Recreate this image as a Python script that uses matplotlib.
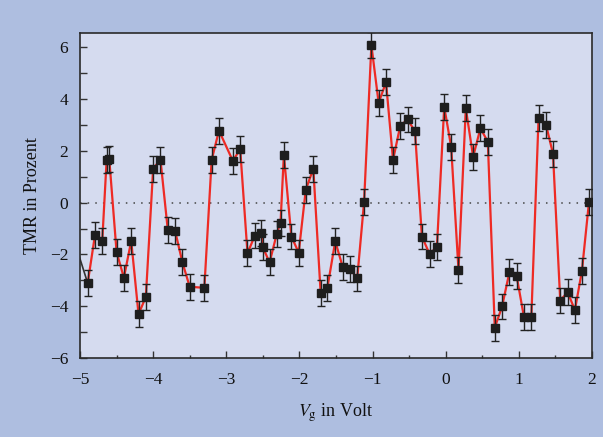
import matplotlib.pyplot as plt
from matplotlib.ticker import MultipleLocator

vg = [-5.12, -4.895, -4.795, -4.696, -4.636, -4.60, -4.50, -4.40, -4.30, -4.20,
      -4.10, -4.00, -3.90, -3.80, -3.70, -3.60, -3.50, -3.30, -3.20, -3.10,
      -2.91, -2.81, -2.71, -2.61, -2.52, -2.50, -2.408, -2.31, -2.258, -2.213,
      -2.11, -2.01, -1.913, -1.81, -1.71, -1.617, -1.51, -1.41, -1.31, -1.21,
      -1.116, -1.016, -0.917, -0.816, -0.72, -0.621, -0.521, -0.42, -0.325, -0.221,
      -0.12, -0.02, 0.075, 0.175, 0.275, 0.375, 0.475, 0.576, 0.671, 0.771,
      0.871, 0.971, 1.071, 1.171, 1.27, 1.371, 1.467, 1.566, 1.667, 1.767,
      1.863, 1.959]
tmr = [-1.1, -3.11, -1.245, -1.48, 1.65, 1.68, -1.91, -2.90, -1.48, -4.31,
       -3.64, 1.31, 1.66, -1.05, -1.09, -2.31, -3.25, -3.29, 1.65, 2.78,
       1.61, 2.07, -1.96, -1.27, -1.19, -1.73, -2.31, -1.21, -0.77, 1.84,
       -1.31, -1.93, 0.50, 1.31, -3.48, -3.28, -1.49, -2.47, -2.55, -2.93,
       0.02, 6.08, 3.85, 4.65, 1.65, 2.97, 3.21, 2.75, -1.31, -1.98,
       -1.71, 3.70, 2.15, -2.60, 3.64, 1.77, 2.87, 2.35, -4.83, -4.01,
       -2.69, -2.85, -4.43, -4.43, 3.28, 3.01, 1.89, -3.78, -3.46, -4.15,
       -2.63, 0.02]
ERR = 0.5

plt.rcParams["font.family"] = ["Liberation Serif", "DejaVu Serif"]
plt.rcParams["mathtext.fontset"] = "stix"

fig = plt.figure(figsize=(6.03, 4.37), dpi=100)
fig.patch.set_facecolor("#aebee0")
ax = fig.add_axes([0.1327, 0.1808, 0.849, 0.7437])
ax.set_facecolor("#d5dbef")

ax.axhline(0, color="#444444", lw=1.1, ls=(0, (1, 4)), zorder=1)
# erstes Stück (vom Rand her) ist im Original dunkel
ax.plot(vg[:2], tmr[:2], color="#333333", lw=1.2, zorder=2)
ax.plot(vg[1:], tmr[1:], color="#ee2a24", lw=1.6, zorder=2)
ax.errorbar(vg, tmr, yerr=ERR, fmt="none", ecolor="#222222", elinewidth=1.0,
            capsize=3, capthick=1.0, zorder=3)
ax.plot(vg, tmr, ls="none", marker="s", ms=5.5, color="#1e1e1e", zorder=4)

ax.set_xlim(-5, 2)
ax.set_ylim(-6, 6.55)
ax.xaxis.set_major_locator(MultipleLocator(1))
ax.xaxis.set_minor_locator(MultipleLocator(0.5))
ax.yaxis.set_major_locator(MultipleLocator(2))
ax.yaxis.set_minor_locator(MultipleLocator(1))
ax.tick_params(which="both", direction="in", top=False, right=False,
               color="#333333", labelsize=12.5, labelcolor="#111111")
ax.tick_params(axis="x", which="major", length=5, width=1, pad=10)
ax.tick_params(axis="x", which="minor", length=2.5, width=1)
ax.tick_params(axis="y", which="both", length=5, width=1, pad=8.5)
for s in ax.spines.values():
    s.set_color("#2a2a2a")
    s.set_linewidth(1.2)

ax.set_xlabel(r"$V_\mathrm{g}$ in Volt", fontsize=13, color="#111111", labelpad=10)
ax.set_ylabel("TMR in Prozent", fontsize=13, color="#111111", labelpad=6)

fig.savefig("out.png", dpi=100, facecolor=fig.get_facecolor())
